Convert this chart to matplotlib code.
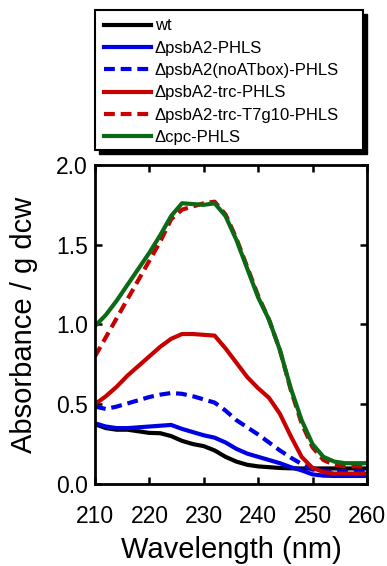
import numpy as np
import matplotlib.pyplot as plt
from matplotlib.lines import Line2D
from matplotlib.patches import Rectangle

plt.rcParams['font.family'] = ['Liberation Sans', 'DejaVu Sans']

# wavelength grid (nm)
wl = [210, 212, 214, 216, 218, 220, 222, 224, 226, 228, 230, 232, 234,
      236, 238, 240, 242, 244, 246, 248, 250, 252, 254, 256, 258, 260]

# absorbance per g dcw
wt = [0.375, 0.35, 0.34, 0.34, 0.33, 0.32, 0.318, 0.30, 0.27, 0.25, 0.237, 0.21, 0.17,
      0.14, 0.12, 0.11, 0.105, 0.10, 0.098, 0.097, 0.097, 0.097, 0.097, 0.097, 0.097, 0.097]
psbA2 = [0.38, 0.36, 0.35, 0.35, 0.355, 0.36, 0.365, 0.37, 0.345, 0.325, 0.305, 0.29, 0.26,
         0.22, 0.19, 0.17, 0.15, 0.13, 0.105, 0.085, 0.06, 0.052, 0.05, 0.05, 0.05, 0.05]
noatbox = [0.485, 0.47, 0.485, 0.505, 0.525, 0.545, 0.56, 0.57, 0.565, 0.55, 0.53, 0.51, 0.46,
           0.40, 0.355, 0.31, 0.26, 0.21, 0.165, 0.125, 0.09, 0.083, 0.08, 0.08, 0.08, 0.08]
trc = [0.50, 0.55, 0.61, 0.68, 0.74, 0.80, 0.86, 0.91, 0.94, 0.94, 0.935, 0.93, 0.85,
       0.76, 0.67, 0.60, 0.54, 0.44, 0.30, 0.17, 0.10, 0.075, 0.065, 0.065, 0.065, 0.065]
t7g10 = [0.80, 0.92, 1.04, 1.16, 1.28, 1.40, 1.52, 1.66, 1.72, 1.74, 1.76, 1.77, 1.69,
         1.54, 1.36, 1.18, 1.03, 0.84, 0.59, 0.38, 0.23, 0.15, 0.12, 0.11, 0.11, 0.11]
cpc = [0.99, 1.06, 1.15, 1.25, 1.35, 1.45, 1.56, 1.68, 1.76, 1.755, 1.75, 1.76, 1.68,
       1.53, 1.35, 1.17, 1.03, 0.84, 0.60, 0.40, 0.25, 0.17, 0.14, 0.13, 0.13, 0.13]

labels = ['wt', '\u0394psbA2-PHLS', '\u0394psbA2(noATbox)-PHLS', '\u0394psbA2-trc-PHLS',
          '\u0394psbA2-trc-T7g10-PHLS', '\u0394cpc-PHLS']
colors = ['black', '#0000e6', '#0000e6', '#c80000', '#c80000', '#0b6a16']
styles = ['-', '-', '--', '-', '--', '-']
series = [wt, psbA2, noatbox, trc, t7g10, cpc]

fig = plt.figure(figsize=(3.87, 5.66), dpi=100)
ax = fig.add_axes([0.2455, 0.145, 0.7025, 0.5635])

handles = []
for y, c, ls, lab in zip(series, colors, styles, labels):
    d = (2.6, 1.4) if ls == '--' else (None, None)
    ax.plot(wl, y, color=c, lw=3, dashes=d, solid_joinstyle='round', solid_capstyle='round')
    handles.append(Line2D([], [], color=c, lw=3, dashes=d))

ax.set_xlim(210, 260)
ax.set_ylim(0, 2.0)
ax.set_xticks([210, 220, 230, 240, 250, 260])
ax.set_yticks([0.0, 0.5, 1.0, 1.5, 2.0])
ax.set_yticklabels(['0.0', '0.5', '1.0', '1.5', '2.0'])
ax.tick_params(direction='in', top=True, right=True, length=5, width=1.8, labelsize=16.5)
ax.tick_params(axis='x', pad=15)
ax.tick_params(axis='y', pad=5)
for s in ax.spines.values():
    s.set_linewidth(2)
ax.set_xlabel('Wavelength (nm)', fontsize=21, labelpad=6)
ax.set_ylabel('Absorbance / g dcw', fontsize=21, labelpad=13)

# legend box with a black drop shadow
W, H = 387.0, 566.0
x0, y0, x1, y1 = 95 / W, 1 - 150 / H, 363 / W, 1 - 10 / H
fig.patches.append(Rectangle((x0 + 4 / W, y0 - 4 / H), x1 - x0, y1 - y0, transform=fig.transFigure,
                             facecolor='black', edgecolor='black', zorder=1))
fig.patches.append(Rectangle((x0, y0), x1 - x0, y1 - y0, transform=fig.transFigure,
                             facecolor='white', edgecolor='black', lw=1.5, zorder=2))
leg = fig.legend(handles, labels, loc='upper left', bbox_to_anchor=(x0 + 0.01, y1 - 0.006),
                 frameon=False, fontsize=12, handlelength=2.8, handletextpad=0.25,
                 labelspacing=0.44, borderpad=0.3, borderaxespad=0)
leg.set_zorder(3)

fig.savefig('out.png', dpi=100)
